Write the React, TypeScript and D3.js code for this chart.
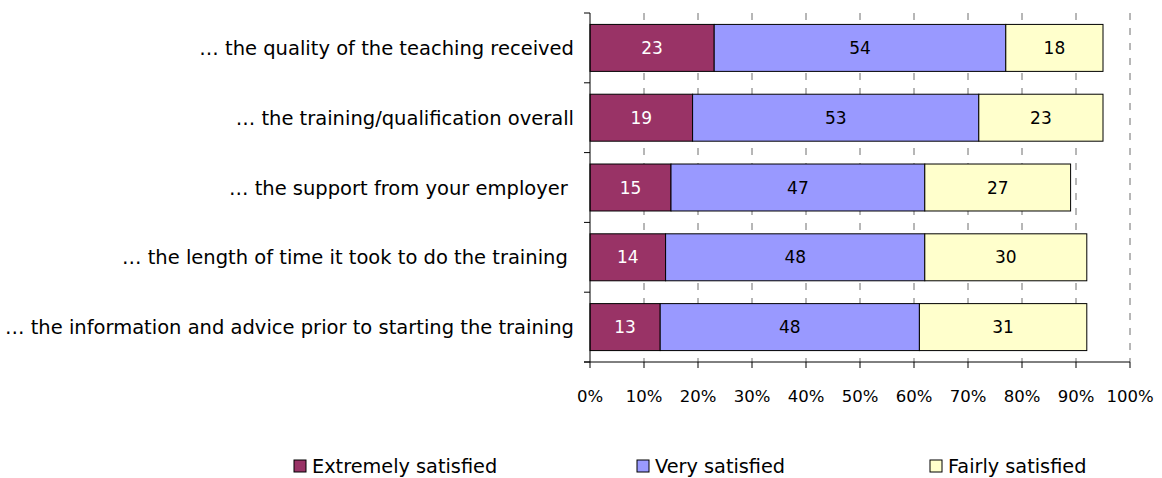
import React from 'react';
import * as d3 from 'd3';

const categories = [
  '… the quality of the teaching received',
  '… the training/qualification overall',
  '… the support from your employer ',
  '… the length of time it took to do the training ',
  '… the information and advice prior to starting the training',
];
const seriesNames = ['Extremely satisfied', 'Very satisfied', 'Fairly satisfied'];
const extremely = [23, 19, 15, 14, 13];
const very = [54, 53, 47, 48, 48];
const fairly = [18, 23, 27, 30, 31];
const xTicks = [0, 10, 20, 30, 40, 50, 60, 70, 80, 90, 100];

const colors = ['#993366', '#9999FF', '#FFFFCC'];
const textColors = ['#ffffff', '#000000', '#000000'];
const FONT = '"DejaVu Sans", sans-serif';

const App: React.FC = () => {
  const width = 1162;
  const height = 478;
  const left = 590;
  const right = 1130;
  const top = 13;
  const bottom = 362;

  const x = d3.scaleLinear().domain([0, 100]).range([left, right]);
  const y = d3
    .scaleBand<string>()
    .domain(categories)
    .range([top, bottom])
    .paddingInner(0.327)
    .paddingOuter(0.1635);

  const series = [extremely, very, fairly];
  const rows = categories.map((c, i) => ({ cat: c, vals: series.map((s) => s[i]) }));
  const step = y.step();

  return (
    <svg
      width={width}
      height={height}
      style={{ position: 'absolute', left: 0, top: 0, fontFamily: FONT }}
    >
      {/* gridlines */}
      {xTicks.slice(1).map((t) => (
        <line
          key={'g' + t}
          x1={x(t)}
          x2={x(t)}
          y1={top}
          y2={bottom}
          stroke="#6f6f6f"
          strokeWidth={1}
          strokeDasharray="7,8"
        />
      ))}

      {/* bars */}
      {rows.map((r) => {
        let acc = 0;
        return r.vals.map((v, k) => {
          const x0 = x(acc);
          acc += v;
          const x1 = x(acc);
          const yy = y(r.cat)!;
          return (
            <g key={r.cat + k}>
              <rect
                x={x0}
                y={yy}
                width={x1 - x0}
                height={y.bandwidth()}
                fill={colors[k]}
                stroke="#000"
                strokeWidth={1}
              />
              <text
                x={(x0 + x1) / 2}
                y={yy + y.bandwidth() / 2}
                dy="0.36em"
                textAnchor="middle"
                fontSize={17}
                fill={textColors[k]}
              >
                {v}
              </text>
            </g>
          );
        });
      })}

      {/* left axis */}
      <line x1={left} x2={left} y1={top} y2={bottom} stroke="#000" />
      {d3.range(categories.length + 1).map((i) => (
        <line
          key={'yt' + i}
          x1={left - 6}
          x2={left}
          y1={top + i * step}
          y2={top + i * step}
          stroke="#000"
        />
      ))}
      {categories.map((c) => (
        <text
          key={'yl' + c}
          x={574}
          y={y(c)! + y.bandwidth() / 2}
          dy="0.36em"
          textAnchor="end"
          fontSize={19.5}
          fill="#000"
          style={{ whiteSpace: 'pre' }}
        >
          {c}
        </text>
      ))}

      {/* bottom axis */}
      <line x1={left - 6} x2={right} y1={bottom} y2={bottom} stroke="#000" />
      {xTicks.map((t) => (
        <g key={'xt' + t}>
          <line x1={x(t)} x2={x(t)} y1={bottom} y2={bottom + 6} stroke="#000" />
          <text x={x(t)} y={396} dy="0.36em" textAnchor="middle" fontSize={16.5} fill="#000">
            {t + '%'}
          </text>
        </g>
      ))}

      {/* legend */}
      {seriesNames.map((n, k) => {
        const lx = [294, 637, 930][k];
        return (
          <g key={'lg' + n}>
            <rect x={lx} y={460} width={12} height={12} fill={colors[k]} stroke="#000" />
            <text x={lx + 18} y={466} dy="0.36em" fontSize={19.3} fill="#000">
              {n}
            </text>
          </g>
        );
      })}
    </svg>
  );
};

export default App;
